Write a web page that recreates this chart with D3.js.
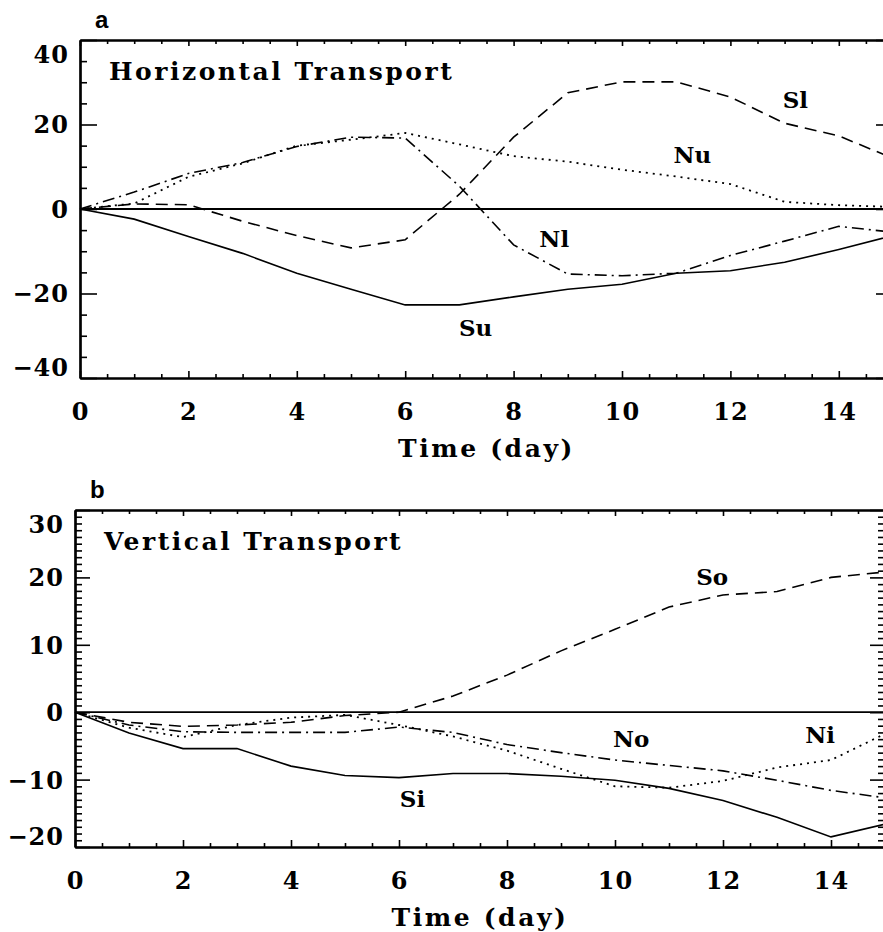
<!DOCTYPE html>
<html>
<head>
<meta charset="utf-8">
<script src="https://cdn.jsdelivr.net/npm/d3@7"></script>
<style>
  body { margin: 0; background: #fff; }
  svg text { font-family: "DejaVu Serif", serif; font-weight: bold; fill: #000; }
</style>
</head>
<body>
<script>
// daily values, day 0..15
const days = d3.range(0, 16);

// panel a - horizontal transport
const su = [0, -2.4, -6.5, -10.5, -15.2, -19.0, -22.7, -22.7, -20.8, -19.0, -17.8, -15.2, -14.6, -12.6, -9.6, -6.3];
const sl = [0, 1.2, 1.0, -2.9, -6.3, -9.2, -7.3, 3.5, 17.0, 27.5, 30.1, 30.1, 26.5, 20.3, 17.3, 12.0];
const nu = [0, 1.3, 7.6, 10.8, 15.0, 16.4, 18.0, 15.3, 12.5, 11.2, 9.3, 7.7, 5.9, 1.7, 0.9, 0.5];
const nl = [0, 4.0, 8.4, 11.0, 14.8, 17.0, 16.8, 5.4, -8.5, -15.4, -15.8, -15.2, -11.0, -7.6, -4.1, -5.5];

// panel b - vertical transport
const si = [0, -3.1, -5.4, -5.4, -8.0, -9.4, -9.7, -9.1, -9.1, -9.5, -10.1, -11.3, -13.1, -15.6, -18.5, -16.6];
const so = [0, -1.5, -2.1, -1.9, -1.5, -0.5, 0, 2.4, 5.5, 9.1, 12.3, 15.6, 17.4, 17.9, 20.0, 20.8];
const no = [0, -1.9, -2.9, -3.0, -3.0, -3.0, -2.2, -3.0, -4.8, -6.0, -7.1, -7.9, -8.7, -10.1, -11.6, -12.7];
const ni = [0, -2.3, -3.7, -1.9, -0.8, -0.4, -1.9, -3.6, -5.7, -8.4, -11.0, -11.2, -10.2, -8.2, -7.1, -3.2];

const xTicks = [0, 2, 4, 6, 8, 10, 12, 14];

const dash = {
    solid: null,
    dashed: "12,7",
    dotted: "2,5",
    dashdot: "12,5,2,5"
};

const panels = [
    {
        tag: "a",
        title: "Horizontal Transport",
        left: 80, right: 893, top: 40, bottom: 378,
        yDomain: [-40, 40], yMajor: 20, yMinor: 5, majorLen: 17,
        series: [
            { values: su, style: "solid" },
            { values: sl, style: "dashed" },
            { values: nu, style: "dotted" },
            { values: nl, style: "dashdot" }
        ],
        labels: [
            { text: "Sl", day: 13.2, value: 24 },
            { text: "Nu", day: 11.3, value: 11 },
            { text: "Nl", day: 8.75, value: -9 },
            { text: "Su", day: 7.3, value: -30 }
        ]
    },
    {
        tag: "b",
        title: "Vertical Transport",
        left: 75, right: 885, top: 510, bottom: 847,
        yDomain: [-20, 30], yMajor: 10, yMinor: 1, majorLen: 15,
        series: [
            { values: si, style: "solid" },
            { values: so, style: "dashed" },
            { values: no, style: "dashdot" },
            { values: ni, style: "dotted" }
        ],
        labels: [
            { text: "So", day: 11.8, value: 18.8 },
            { text: "No", day: 10.3, value: -5.2 },
            { text: "Ni", day: 13.8, value: -4.5 },
            { text: "Si", day: 6.25, value: -14 }
        ]
    }
];

const width = 883, height = 932;

const svg = d3.select("body").append("svg")
    .attr("width", width)
    .attr("height", height);

panels.forEach(p => {
    const x = d3.scaleLinear().domain([0, 15]).range([p.left, p.right]);
    const y = d3.scaleLinear().domain(p.yDomain).range([p.bottom, p.top]);
    const g = svg.append("g");

    const yMajorTicks = d3.range(p.yDomain[0], p.yDomain[1] + 0.001, p.yMajor);
    const yMinorTicks = d3.range(p.yDomain[0], p.yDomain[1] + 0.001, p.yMinor)
        .filter(v => yMajorTicks.indexOf(v) < 0);
    const xMinorTicks = d3.range(0, 15.001, 0.5).filter(v => xTicks.indexOf(v) < 0);

    const fmt = d => (d < 0 ? "\u2212" + Math.abs(d) : d);

    // left axis with labels
    const left = g.append("g")
        .attr("transform", `translate(${p.left},0)`)
        .call(d3.axisLeft(y).tickValues(yMajorTicks).tickSize(-p.majorLen).tickSizeOuter(0).tickPadding(11).tickFormat(fmt));
    left.selectAll("text")
        .style("font-size", "24px")
        .style("letter-spacing", "1px")
        .attr("dy", d => d === p.yDomain[1] ? "0.95em" : d === p.yDomain[0] ? "-0.1em" : "0.35em");
    g.append("g")
        .attr("transform", `translate(${p.left},0)`)
        .call(d3.axisLeft(y).tickValues(yMinorTicks).tickSize(-7).tickSizeOuter(0).tickFormat(""));

    // right axis, ticks only
    g.append("g")
        .attr("transform", `translate(${p.right},0)`)
        .call(d3.axisRight(y).tickValues(yMajorTicks).tickSize(-p.majorLen).tickSizeOuter(0).tickFormat(""));
    g.append("g")
        .attr("transform", `translate(${p.right},0)`)
        .call(d3.axisRight(y).tickValues(yMinorTicks).tickSize(-7).tickSizeOuter(0).tickFormat(""));

    // bottom axis with labels
    const bottom = g.append("g")
        .attr("transform", `translate(0,${p.bottom})`)
        .call(d3.axisBottom(x).tickValues(xTicks).tickSize(-7).tickSizeOuter(0).tickPadding(25).tickFormat(d => d));
    bottom.selectAll("text").style("font-size", "24px").style("letter-spacing", "1px");
    g.append("g")
        .attr("transform", `translate(0,${p.bottom})`)
        .call(d3.axisBottom(x).tickValues(xMinorTicks).tickSize(-4).tickSizeOuter(0).tickFormat(""));

    // top axis, ticks only
    g.append("g")
        .attr("transform", `translate(0,${p.top})`)
        .call(d3.axisTop(x).tickValues(xTicks).tickSize(-6).tickSizeOuter(0).tickFormat(""));
    g.append("g")
        .attr("transform", `translate(0,${p.top})`)
        .call(d3.axisTop(x).tickValues(xMinorTicks).tickSize(-4).tickSizeOuter(0).tickFormat(""));

    g.selectAll(".domain").attr("stroke-width", 2.2);
    g.selectAll(".tick line").attr("stroke-width", 1.6);

    // zero line
    g.append("line")
        .attr("x1", p.left).attr("x2", p.right)
        .attr("y1", y(0)).attr("y2", y(0))
        .attr("stroke", "#000")
        .attr("stroke-width", 1.8);

    const line = d3.line()
        .x((d, i) => x(days[i]))
        .y(d => y(d));

    g.selectAll("path.curve")
        .data(p.series)
        .enter()
        .append("path")
        .attr("class", "curve")
        .attr("d", d => line(d.values))
        .attr("fill", "none")
        .attr("stroke", "#000")
        .attr("stroke-width", d => d.style === "dotted" ? 1.8 : 1.6)
        .attr("stroke-dasharray", d => dash[d.style]);

    g.selectAll("text.lab")
        .data(p.labels)
        .enter()
        .append("text")
        .attr("class", "lab")
        .attr("x", d => x(d.day))
        .attr("y", d => y(d.value))
        .attr("text-anchor", "middle")
        .style("font-size", "23px")
        .text(d => d.text);

    g.append("text")
        .attr("x", p.left + 29)
        .attr("y", p.top + 40)
        .style("font-size", "25px")
        .style("letter-spacing", "2.5px")
        .text(p.title);

    g.append("text")
        .attr("x", p.left + 15)
        .attr("y", p.top - 12)
        .style("font-family", "'Liberation Sans', Arial, sans-serif")
        .style("font-size", "24px")
        .text(p.tag);

    g.append("text")
        .attr("x", (p.left + p.right) / 2)
        .attr("y", p.bottom + 79)
        .attr("text-anchor", "middle")
        .style("font-size", "25px")
        .style("letter-spacing", "2.6px")
        .text("Time (day)");
});
</script>
</body>
</html>
